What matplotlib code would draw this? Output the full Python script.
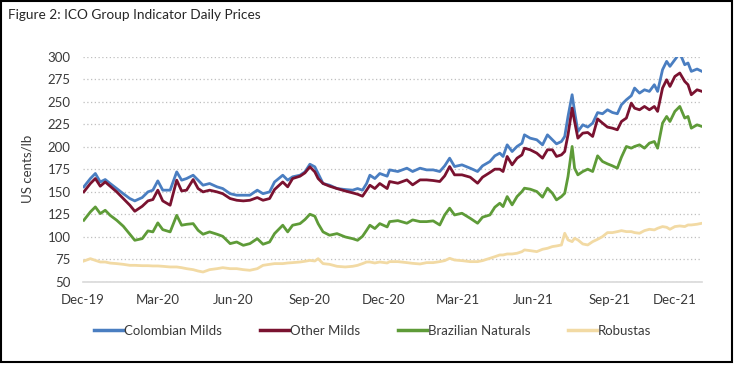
import matplotlib
matplotlib.use("Agg")
import matplotlib.pyplot as plt
import matplotlib.transforms as mtransforms
from matplotlib.patches import Rectangle
import pandas as pd

dates = [
    "2019-12-02", "2019-12-10", "2019-12-16", "2019-12-22", "2019-12-28", "2020-01-03", "2020-01-11",
    "2020-01-19", "2020-01-27", "2020-02-02", "2020-02-11", "2020-02-18", "2020-02-24", "2020-03-01",
    "2020-03-07", "2020-03-16", "2020-03-24", "2020-03-30", "2020-04-05", "2020-04-13", "2020-04-19",
    "2020-04-25", "2020-05-03", "2020-05-12", "2020-05-19", "2020-05-28", "2020-06-05", "2020-06-13",
    "2020-06-21", "2020-06-30", "2020-07-07", "2020-07-15", "2020-07-21", "2020-07-31", "2020-08-06",
    "2020-08-12", "2020-08-21", "2020-08-27", "2020-09-02", "2020-09-08", "2020-09-12", "2020-09-18",
    "2020-09-26", "2020-10-05", "2020-10-15", "2020-10-24", "2020-10-30", "2020-11-05", "2020-11-10",
    "2020-11-14", "2020-11-20", "2020-11-26", "2020-12-05", "2020-12-08", "2020-12-18", "2020-12-29",
    "2021-01-05", "2021-01-14", "2021-01-22", "2021-01-30", "2021-02-07", "2021-02-13", "2021-02-19",
    "2021-02-25", "2021-03-06", "2021-03-16", "2021-03-25", "2021-03-31", "2021-04-09", "2021-04-15",
    "2021-04-21", "2021-04-25", "2021-04-30", "2021-05-06", "2021-05-12", "2021-05-18", "2021-05-21",
    "2021-05-28", "2021-06-05", "2021-06-12", "2021-06-18", "2021-06-24", "2021-06-29", "2021-07-05",
    "2021-07-09", "2021-07-13", "2021-07-18", "2021-07-21", "2021-07-25", "2021-07-31", "2021-08-06",
    "2021-08-12", "2021-08-18", "2021-08-24", "2021-08-30", "2021-09-05", "2021-09-11", "2021-09-16",
    "2021-09-22", "2021-09-28", "2021-10-02", "2021-10-08", "2021-10-14", "2021-10-20", "2021-10-26",
    "2021-10-30", "2021-11-05", "2021-11-10", "2021-11-14", "2021-11-20", "2021-11-26", "2021-12-02",
    "2021-12-06", "2021-12-10", "2021-12-17", "2021-12-23",
]

colombian_milds = [
    155.6, 164.8, 170.4, 161.0, 163.7, 159.3, 153.7, 148.0, 142.6, 140.0, 143.7, 150.0, 151.9, 162.2,
    151.9, 151.9, 172.2, 163.0, 164.8, 168.5, 163.0, 157.4, 159.3, 155.6, 153.7, 148.0, 146.3, 146.3,
    146.3, 151.9, 148.0, 150.0, 161.0, 168.5, 163.0, 166.7, 168.5, 172.2, 180.7, 177.8, 170.4, 159.3,
    157.4, 153.7, 152.6, 151.9, 153.7, 151.9, 159.3, 168.5, 164.8, 170.4, 167.4, 174.4, 172.6, 176.3,
    172.6, 176.3, 174.4, 174.4, 172.6, 178.9, 187.4, 178.1, 180.0, 176.3, 172.6, 178.9, 183.7, 190.0,
    193.0, 189.3, 202.2, 194.8, 200.4, 204.0, 213.3, 209.6, 207.8, 202.2, 213.3, 207.8, 203.3, 205.9,
    211.5, 233.7, 257.8, 239.3, 217.0, 224.4, 221.9, 226.3, 238.0, 236.7, 241.1, 238.1, 236.7, 246.7,
    252.2, 256.7, 265.2, 259.6, 263.3, 261.5, 268.9, 261.5, 285.6, 294.8, 289.3, 296.7, 304.1, 291.1,
    293.0, 283.7, 286.3, 283.7,
]

other_milds = [
    150.0, 159.3, 164.8, 156.3, 161.0, 156.3, 150.0, 142.6, 135.2, 128.5, 134.0, 140.0, 141.5, 151.9,
    140.0, 135.2, 163.0, 151.0, 151.9, 163.7, 153.7, 150.0, 151.9, 150.0, 148.0, 142.6, 140.7, 140.0,
    140.7, 143.7, 140.7, 142.6, 152.6, 161.0, 155.6, 164.8, 167.4, 171.1, 177.8, 172.2, 164.8, 159.3,
    156.3, 153.7, 151.0, 148.9, 147.4, 145.2, 151.9, 157.4, 153.7, 159.3, 153.7, 161.5, 159.6, 163.3,
    157.8, 163.3, 163.3, 162.6, 161.5, 167.8, 178.1, 168.9, 168.9, 166.3, 159.6, 166.3, 171.5, 175.2,
    175.2, 172.6, 189.3, 180.0, 187.4, 191.1, 198.5, 196.7, 193.0, 187.4, 196.7, 196.7, 189.3, 191.1,
    194.8, 213.3, 243.0, 228.1, 209.6, 215.2, 215.9, 211.5, 231.0, 226.3, 221.9, 220.7, 218.9, 228.1,
    231.9, 248.5, 242.9, 241.1, 244.8, 241.1, 244.8, 239.3, 265.2, 274.4, 267.0, 278.1, 281.9, 272.6,
    268.9, 257.8, 263.3, 261.5,
]

brazilian_naturals = [
    118.5, 127.8, 133.3, 125.9, 129.6, 124.0, 118.5, 111.9, 103.0, 96.3, 98.1, 106.7, 105.6, 115.6,
    108.1, 105.6, 124.0, 113.0, 114.0, 114.8, 107.4, 103.0, 105.6, 103.0, 100.7, 92.6, 94.4, 90.7,
    92.6, 98.1, 91.9, 94.4, 103.7, 113.0, 105.6, 113.0, 114.8, 119.3, 125.2, 123.0, 114.8, 105.6,
    101.9, 103.7, 100.0, 98.1, 96.3, 100.7, 107.4, 113.0, 109.3, 114.8, 111.1, 117.0, 118.1, 115.2,
    118.9, 117.0, 117.0, 117.8, 113.3, 124.4, 131.9, 124.4, 126.3, 120.7, 115.2, 121.9, 124.4, 133.0,
    137.4, 133.7, 144.8, 135.6, 144.8, 150.4, 154.1, 153.0, 150.4, 144.1, 154.1, 148.5, 141.1, 144.8,
    148.5, 167.0, 200.4, 176.3, 168.9, 172.6, 175.2, 172.6, 190.0, 183.7, 181.1, 178.9, 176.3, 188.5,
    200.4, 198.5, 200.4, 202.2, 198.5, 204.1, 205.9, 198.5, 226.3, 233.7, 228.1, 239.3, 244.8, 231.9,
    233.7, 220.7, 224.4, 222.6,
]

robustas = [
    73.3, 75.9, 74.0, 72.2, 72.2, 71.0, 70.4, 69.6, 68.5, 68.5, 68.1, 68.1, 67.8, 67.8,
    67.4, 66.7, 66.7, 65.9, 64.8, 63.7, 62.2, 61.1, 63.7, 64.8, 65.9, 64.8, 64.8, 63.7,
    63.0, 64.8, 68.5, 69.6, 70.4, 70.4, 71.1, 71.5, 72.2, 73.0, 74.0, 73.3, 75.9, 70.4,
    69.6, 67.4, 66.7, 67.4, 68.5, 70.4, 72.2, 72.2, 71.1, 72.2, 71.1, 72.6, 72.6, 71.5,
    70.7, 70.0, 71.5, 71.5, 72.6, 73.7, 76.3, 74.4, 73.7, 72.6, 72.6, 73.7, 76.3, 78.1,
    80.0, 80.0, 81.1, 81.1, 81.9, 83.7, 85.6, 84.8, 83.7, 86.3, 87.4, 89.3, 90.0, 91.1,
    104.1, 96.7, 94.8, 98.5, 96.7, 92.2, 91.1, 94.8, 97.4, 100.4, 104.8, 104.8, 105.9, 107.0,
    105.9, 105.9, 104.8, 104.1, 107.0, 108.5, 107.8, 109.6, 111.5, 110.7, 108.5, 111.5, 112.2, 111.5,
    113.3, 113.3, 114.1, 115.2,
]

series_names = ["Colombian Milds", "Other Milds", "Brazilian Naturals", "Robustas"]
series_colors = ["#4A7EC1", "#7A1230", "#5E9B38", "#F2DAA4"]
y_ticks = [50, 75, 100, 125, 150, 175, 200, 225, 250, 275, 300]
x_tick_dates = ["2019-12-01", "2020-03-01", "2020-06-01", "2020-09-01", "2020-12-01",
                "2021-03-01", "2021-06-01", "2021-09-01", "2021-12-01"]
x_tick_labels = ["Dec-19", "Mar-20", "Jun-20", "Sep-20", "Dec-20", "Mar-21", "Jun-21", "Sep-21", "Dec-21"]

plt.rcParams["font.family"] = ["Lato", "DejaVu Sans"]

W, H = 736, 365
fig = plt.figure(figsize=(W / 100, H / 100), dpi=100)
fig.patch.set_facecolor("white")

ax = fig.add_axes([83 / W, 1 - 282 / H, (702 - 83) / W, (282 - 56.7) / H])

x = pd.to_datetime(dates)
all_series = [colombian_milds, other_milds, brazilian_naturals, robustas]
for name, vals, col in zip(series_names, all_series, series_colors):
    ax.plot(x, vals, color=col, lw=2.0, label=name, solid_joinstyle="round")

ax.set_ylim(50, 300)
ax.set_xlim(pd.Timestamp("2019-12-01"), pd.Timestamp("2021-12-23"))
ax.set_yticks(y_ticks)
ax.set_xticks(pd.to_datetime(x_tick_dates))
ax.set_xticklabels(x_tick_labels)

ax.grid(axis="y", linestyle=(0, (1, 2)), color="#BFBFBF", linewidth=0.9)
ax.set_axisbelow(True)
for s in ["top", "right", "left"]:
    ax.spines[s].set_visible(False)
ax.spines["bottom"].set_color("#D9D9D9")
ax.spines["bottom"].set_linewidth(1.2)
ax.tick_params(axis="both", length=0, labelsize=9.5, colors="#3A3A3A")
ax.tick_params(axis="y", pad=9)
ax.tick_params(axis="x", pad=9)

# last tick label nudged left as in the reference
lbl = ax.get_xticklabels()[-1]
lbl.set_transform(lbl.get_transform() + mtransforms.ScaledTranslation(-9 / 100, 0, fig.dpi_scale_trans))

ax.set_ylabel("US cents/lb", fontsize=9.5, color="#3A3A3A", labelpad=10)

fig.text(8 / W, 1 - 15 / H, "Figure 2: ICO Group Indicator Daily Prices",
         fontsize=9.8, color="#262626", ha="left", va="center")

leg = fig.legend(loc="center left", bbox_to_anchor=(94 / W, 1 - 331 / H), ncol=4,
                 frameon=False, fontsize=9.5, handlelength=2.2, handletextpad=0.05,
                 columnspacing=2.9, borderpad=0, borderaxespad=0)
for t in leg.get_texts():
    t.set_color("#3A3A3A")
for h in leg.get_lines():
    h.set_linewidth(2.5)

fig.patches.append(Rectangle((0.8 / W, 1 - 361.5 / H), 731 / W, 360.5 / H,
                             transform=fig.transFigure, fill=False,
                             edgecolor="black", linewidth=1.5))

fig.savefig("out.png", dpi=100, facecolor="white")
